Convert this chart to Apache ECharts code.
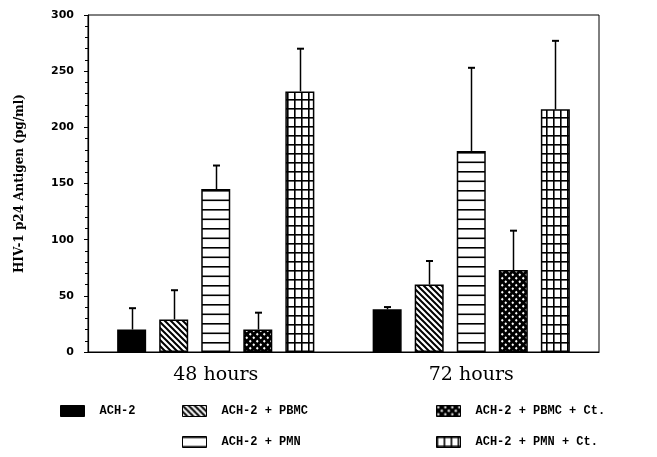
<!DOCTYPE html>
<html>
<head>
<meta charset="utf-8">
<script src="https://cdn.jsdelivr.net/npm/echarts@6/dist/echarts.min.js"></script>
<style>
html,body{margin:0;padding:0;background:#fff;}
#chart{width:657px;height:457px;}
</style>
</head>
<body>
<div id="chart"></div>
<script>
// ---- data ----
const categories = ['48 hours', '72 hours'];
const seriesNames = ['ACH-2', 'ACH-2 + PBMC', 'ACH-2 + PMN', 'ACH-2 + PBMC + Ct.', 'ACH-2 + PMN + Ct.'];
const ach2 = [20, 38];
const ach2Err = [39, 40];
const pbmc = [29, 60];
const pbmcErr = [55, 81];
const pmn = [145, 179];
const pmnErr = [166, 253];
const pbmcCt = [20, 73];
const pbmcCtErr = [35, 108];
const pmnCt = [232, 216];
const pmnCtErr = [270, 277];
const yTicks = [0, 50, 100, 150, 200, 250, 300];

const values = [ach2, pbmc, pmn, pbmcCt, pmnCt];
const errors = [ach2Err, pbmcErr, pmnErr, pbmcCtErr, pmnCtErr];

// ---- patterns ----
function makeCanvas(w, h, draw) {
  const c = document.createElement('canvas');
  c.width = w; c.height = h;
  const ctx = c.getContext('2d');
  ctx.fillStyle = '#fff'; ctx.fillRect(0, 0, w, h);
  draw(ctx, w, h);
  return c;
}
const patSolid = '#000';
const patDiag = makeCanvas(6, 6, (ctx, w, h) => {
  ctx.strokeStyle = '#000'; ctx.lineWidth = 2;
  ctx.beginPath();
  ctx.moveTo(-1, -1); ctx.lineTo(w + 1, h + 1);
  ctx.moveTo(-1, h - 1); ctx.lineTo(1, h + 1);
  ctx.moveTo(w - 1, -1); ctx.lineTo(w + 1, 1);
  ctx.stroke();
});
const patHoriz = makeCanvas(8, 19, (ctx, w, h) => {
  ctx.fillStyle = '#000';
  ctx.fillRect(0, 0, w, 1.6);
  ctx.fillRect(0, 9.5, w, 1.6);
});
const patDots = makeCanvas(7, 7, (ctx, w, h) => {
  ctx.fillStyle = '#000'; ctx.fillRect(0, 0, w, h);
  ctx.fillStyle = '#fff';
  const dia = (cx, cy, r) => {
    ctx.beginPath();
    ctx.moveTo(cx, cy - r); ctx.lineTo(cx + r, cy); ctx.lineTo(cx, cy + r); ctx.lineTo(cx - r, cy);
    ctx.closePath(); ctx.fill();
  };
  dia(1.75, 1.75, 1.4); dia(5.25, 5.25, 1.4);
});
const patGrid = makeCanvas(7, 9, (ctx, w, h) => {
  ctx.fillStyle = '#000';
  ctx.fillRect(0, 0, 1.6, h);
  ctx.fillRect(0, 0, w, 1.6);
});
const patterns = [patSolid, patDiag, patHoriz, patDots, patGrid];

// ---- layout constants ----
const BAR_W = 29;
const BAR_GAP_PCT = 45;
const STEP = BAR_W * (1 + BAR_GAP_PCT / 100);

const barSeries = seriesNames.map((name, i) => ({
  name: name,
  type: 'bar',
  data: values[i],
  barWidth: BAR_W,
  barGap: BAR_GAP_PCT + '%',
  itemStyle: {
    color: typeof patterns[i] === 'string' ? patterns[i] : { image: patterns[i], repeat: 'repeat' },
    borderColor: '#000',
    borderWidth: 1.5
  },
  emphasis: { disabled: true },
  z: 2
}));

const errData = [];
seriesNames.forEach((n, i) => {
  categories.forEach((c, j) => {
    errData.push([j, i, values[i][j], errors[i][j]]);
  });
});

const errSeries = {
  type: 'custom',
  name: 'err',
  data: errData,
  encode: { x: 0, y: [2, 3] },
  z: 3,
  renderItem: function (params, api) {
    const cat = api.value(0), idx = api.value(1);
    const base = api.coord([cat, api.value(2)]);
    const top = api.coord([cat, api.value(3)]);
    const x = Math.round(base[0] + (idx - 2) * STEP) + 0.5;
    return {
      type: 'group',
      children: [
        { type: 'line', shape: { x1: x, y1: base[1], x2: x, y2: top[1] }, style: { stroke: '#000', lineWidth: 1.5 } },
        { type: 'line', shape: { x1: x - 3.5, y1: top[1], x2: x + 3.5, y2: top[1] }, style: { stroke: '#000', lineWidth: 2 } }
      ]
    };
  }
};

const legendText = { fontFamily: 'Liberation Mono', fontWeight: 'bold', fontSize: 12, color: '#000', padding: [0, 0, 0, 10] };
const legendCommon = {
  itemWidth: 24, itemHeight: 11, icon: 'rect', selectedMode: false,
  textStyle: legendText,
  itemStyle: { borderColor: '#000', borderWidth: 1 }
};

const chart = echarts.init(document.getElementById('chart'), null, { renderer: 'canvas' });
chart.setOption({
  animation: false,
  backgroundColor: '#fff',
  grid: { left: 88, right: 58, top: 15, bottom: 105, show: true, borderColor: '#000', borderWidth: 1, backgroundColor: 'transparent' },
  legend: [
    Object.assign({ data: [seriesNames[0]], left: 55, top: 400 }, legendCommon),
    Object.assign({ data: [seriesNames[1], seriesNames[2]], left: 177, top: 400, orient: 'vertical', itemGap: 19 }, legendCommon),
    Object.assign({ data: [seriesNames[3], seriesNames[4]], left: 431, top: 400, orient: 'vertical', itemGap: 19 }, legendCommon)
  ],
  xAxis: {
    type: 'category',
    data: categories,
    axisLine: { lineStyle: { color: '#000', width: 1.2 } },
    axisTick: { show: false },
    axisLabel: { color: '#000', fontFamily: 'DejaVu Serif', fontSize: 19, margin: 14 },
    splitLine: { show: false }
  },
  yAxis: {
    type: 'value',
    min: 0, max: 300, interval: 50,
    name: 'HIV-1 p24 Antigen (pg/ml)',
    nameLocation: 'middle',
    nameGap: 62,
    nameRotate: 90,
    nameTextStyle: { color: '#000', fontFamily: 'DejaVu Serif', fontWeight: 'bold', fontSize: 12 },
    axisLine: { show: true, lineStyle: { color: '#000', width: 1.2 } },
    axisTick: { show: true, length: 4, lineStyle: { color: '#000' } },
    minorTick: { show: true, splitNumber: 5, length: 3, lineStyle: { color: '#000' } },
    axisLabel: { color: '#000', fontFamily: 'DejaVu Sans', fontWeight: 'bold', fontSize: 11, margin: 14,
      formatter: v => (yTicks.indexOf(v) >= 0 ? String(v) : '') },
    splitLine: { show: false }
  },
  series: barSeries.concat([errSeries])
});
</script>
</body>
</html>
